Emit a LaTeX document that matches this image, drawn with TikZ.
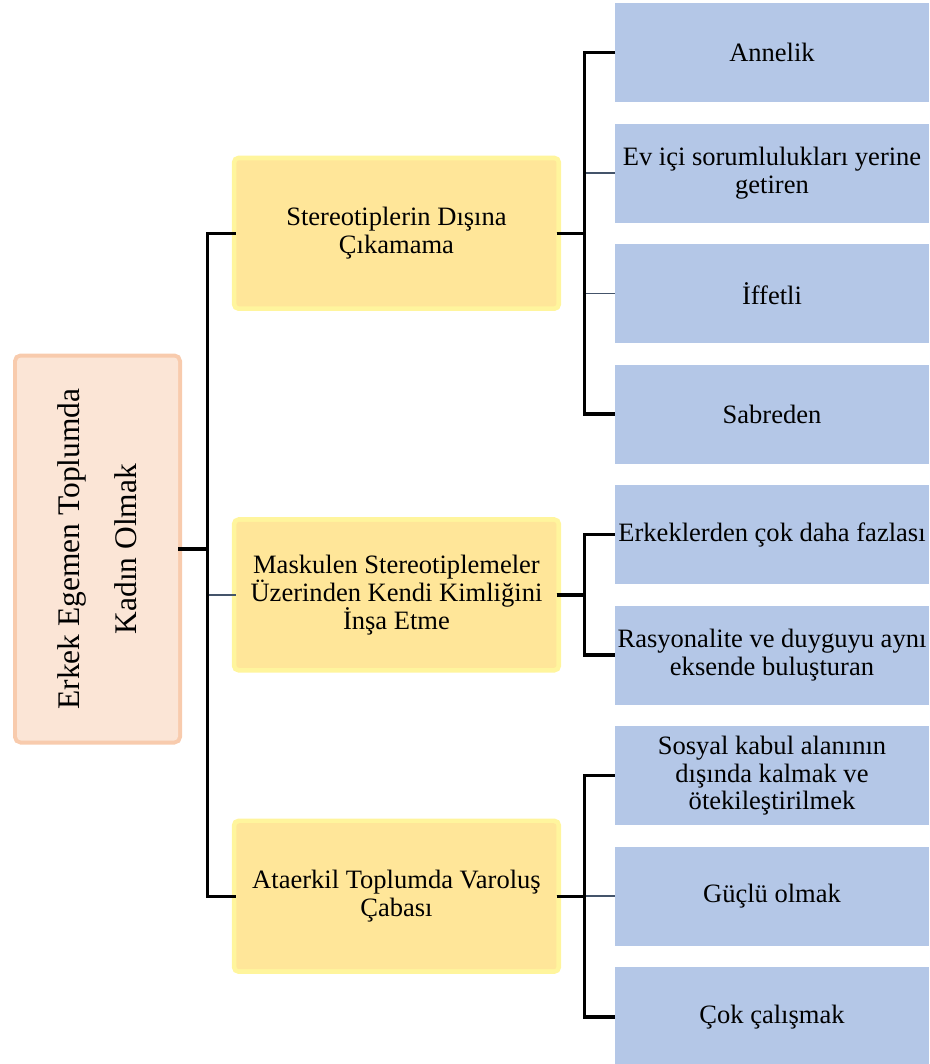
\documentclass[tikz,border=0pt]{standalone}
\usepackage{fontspec}
\setmainfont{Liberation Serif}
\usetikzlibrary{positioning}
\usetikzlibrary{calc}
\definecolor{leafblue}{HTML}{B4C7E7}
\definecolor{topicyellow}{HTML}{FFE699}
\definecolor{topicglow}{HTML}{FFF59D}
\definecolor{rootfill}{HTML}{FBE5D6}
\definecolor{rootglow}{HTML}{F8CBAD}
\definecolor{slate}{HTML}{44546A}

\begin{document}
\begin{tikzpicture}[
    x=0.75pt, y=-0.75pt,
    node distance=15.75pt and 43.5pt,
    leaf/.style={rectangle, fill=leafblue, minimum width=235.5pt, minimum height=74.25pt,
                 inner sep=0pt, align=center, font=\fontsize{19.9}{20.8}\selectfont},
    topic/.style={rectangle, fill=topicyellow, rounded corners=2pt,
                  preaction={draw=topicglow, line width=7pt},
                  minimum width=240pt, minimum height=109.5pt,
                  inner sep=0pt, align=center, font=\fontsize{19.9}{20.8}\selectfont},
    mainbox/.style={rectangle, fill=rootfill, rounded corners=3pt,
                    preaction={draw=rootglow, line width=6pt},
                    minimum width=287.25pt, minimum height=120.75pt,
                    inner sep=0pt, align=center, font=\fontsize{23.6}{42.7}\selectfont},
    link/.style={line width=2.6pt, black},
    sublink/.style={line width=1.2pt, slate}
]
    \useasboundingbox (0,0) rectangle (929,1064);

    \node[leaf] (a1) at (772,52.5) {Annelik};
    \node[leaf, below=of a1] (a2) {Ev içi sorumlulukları yerine\\getiren};
    \node[leaf, below=of a2] (a3) {İffetli};
    \node[leaf, below=of a3] (a4) {Sabreden};
    \node[leaf, below=of a4] (a5) {Erkeklerden çok daha fazlası};
    \node[leaf, below=of a5] (a6) {Rasyonalite ve duyguyu aynı\\eksende buluşturan};
    \node[leaf, below=of a6] (a7) {Sosyal kabul alanının\\dışında kalmak ve\\ötekileştirilmek};
    \node[leaf, below=of a7] (a8) {Güçlü olmak};
    \node[leaf, below=of a8] (a9) {Çok çalışmak};

    \coordinate (c1) at ($(a1.west)!0.5!(a4.west)$);
    \coordinate (c2) at ($(a5.west)!0.5!(a6.west)$);
    \coordinate (c3) at ($(a7.west)!0.5!(a9.west)$);

    \node[topic, left=of c1] (t1) {Stereotiplerin Dışına\\Çıkamama};
    \node[topic, left=of c2] (t2) {Maskulen Stereotiplemeler\\Üzerinden Kendi Kimliğini\\İnşa Etme};
    \node[topic, left=of c3] (t3) {Ataerkil Toplumda Varoluş\\Çabası};

    \node[mainbox, rotate=90] (kadin) at (97.5,549) {Erkek Egemen Toplumda\\Kadın Olmak};

    \draw[sublink] (kadin.south) ++(29,0) |- (t2.west);
    \draw[link] (kadin.south) -- ++(29,0) |- (t1.west);
    \draw[link] (kadin.south) -- ++(29,0) |- (t3.west);

    \draw[sublink] (t1.east) ++(28,0) |- (a2.west);
    \draw[sublink] (t1.east) ++(28,0) |- (a3.west);
    \draw[link] (t1.east) -- ++(28,0) |- (a1.west);
    \draw[link] (t1.east) -- ++(28,0) |- (a4.west);

    \draw[link] (t2.east) -- ++(28,0) |- (a5.west);
    \draw[link] (t2.east) -- ++(28,0) |- (a6.west);

    \draw[sublink] (t3.east) ++(28,0) |- (a8.west);
    \draw[link] (t3.east) -- ++(28,0) |- (a7.west);
    \draw[link] (t3.east) -- ++(28,0) |- (a9.west);
\end{tikzpicture}
\end{document}
